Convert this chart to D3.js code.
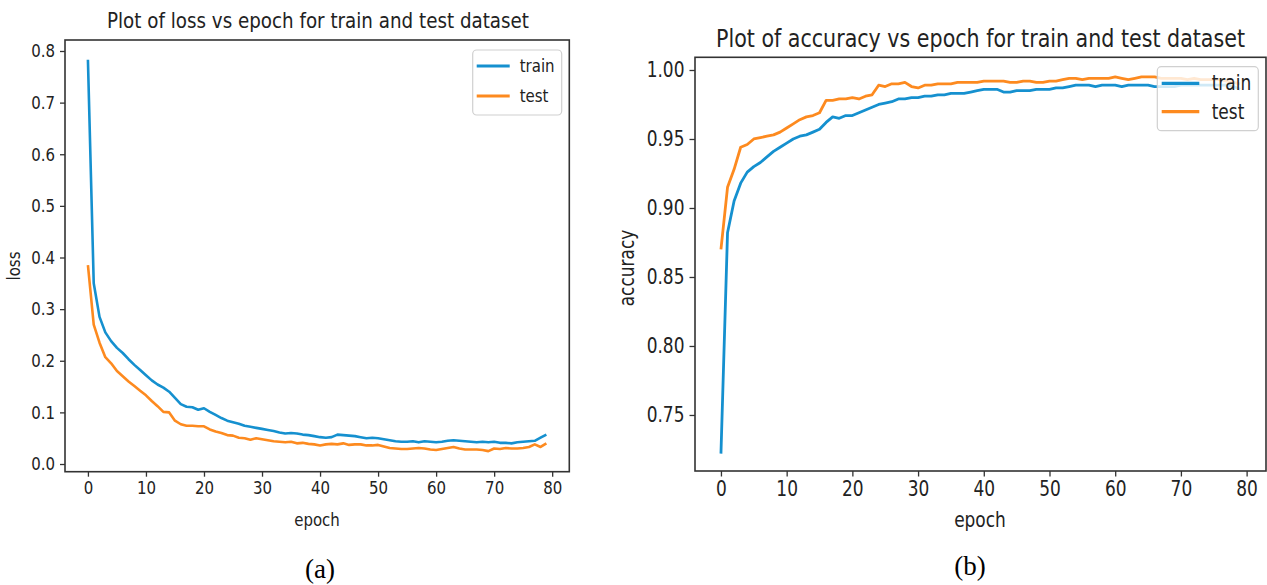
<!DOCTYPE html>
<html><head><meta charset="utf-8">
<script src="https://cdn.jsdelivr.net/npm/d3@7"></script>
<style>body{margin:0;background:#fff}svg{display:block}</style>
</head><body>
<svg id="c" width="1267" height="585"></svg>
<script>
const epochs = d3.range(0, 80);
const lossTrain = [0.783,0.350,0.285,0.255,0.238,0.225,0.215,0.203,0.192,0.182,0.172,0.162,0.154,0.148,0.140,0.128,0.116,0.111,0.110,0.105,0.108,0.101,0.095,0.089,0.084,0.081,0.078,0.074,0.072,0.070,0.068,0.066,0.064,0.061,0.059,0.060,0.059,0.057,0.056,0.054,0.052,0.051,0.052,0.057,0.056,0.055,0.054,0.052,0.050,0.051,0.050,0.048,0.046,0.044,0.043,0.043,0.044,0.042,0.044,0.043,0.042,0.043,0.045,0.046,0.045,0.044,0.043,0.042,0.043,0.042,0.043,0.041,0.041,0.040,0.042,0.043,0.044,0.045,0.051,0.057];
const lossTest = [0.385,0.270,0.235,0.207,0.195,0.180,0.170,0.160,0.151,0.142,0.133,0.122,0.112,0.101,0.100,0.084,0.077,0.074,0.074,0.073,0.073,0.067,0.063,0.060,0.056,0.055,0.051,0.050,0.047,0.050,0.048,0.046,0.044,0.043,0.042,0.043,0.040,0.041,0.039,0.038,0.036,0.038,0.039,0.038,0.040,0.037,0.038,0.038,0.036,0.036,0.037,0.034,0.031,0.030,0.029,0.029,0.030,0.031,0.030,0.028,0.027,0.029,0.031,0.033,0.030,0.028,0.028,0.028,0.027,0.025,0.030,0.029,0.031,0.030,0.030,0.031,0.033,0.038,0.033,0.040];
const accTrain = [0.722,0.882,0.905,0.918,0.926,0.930,0.933,0.937,0.941,0.944,0.947,0.950,0.952,0.953,0.955,0.957,0.962,0.966,0.965,0.967,0.967,0.969,0.971,0.973,0.975,0.976,0.977,0.979,0.979,0.980,0.980,0.981,0.981,0.982,0.982,0.983,0.983,0.983,0.984,0.985,0.986,0.986,0.986,0.984,0.984,0.985,0.985,0.985,0.986,0.986,0.986,0.987,0.987,0.988,0.989,0.989,0.989,0.988,0.989,0.989,0.989,0.988,0.989,0.989,0.989,0.989,0.988,0.988,0.988,0.988,0.989,0.989,0.989,0.989,0.989,0.989,0.989,0.989,0.988,0.986];
const accTest = [0.870,0.915,0.928,0.944,0.946,0.950,0.951,0.952,0.953,0.955,0.958,0.961,0.964,0.966,0.967,0.969,0.978,0.978,0.979,0.979,0.980,0.979,0.981,0.982,0.989,0.988,0.990,0.990,0.991,0.988,0.987,0.989,0.989,0.990,0.990,0.990,0.991,0.991,0.991,0.991,0.992,0.992,0.992,0.992,0.991,0.991,0.992,0.992,0.991,0.991,0.992,0.992,0.993,0.994,0.994,0.993,0.994,0.994,0.994,0.994,0.995,0.994,0.993,0.994,0.995,0.995,0.995,0.994,0.994,0.994,0.994,0.993,0.994,0.993,0.993,0.993,0.993,0.992,0.991,0.990];
const xTicks = [0,10,20,30,40,50,60,70,80];
const lossTicks = [0.0,0.1,0.2,0.3,0.4,0.5,0.6,0.7,0.8];
const accTicks = [0.75,0.80,0.85,0.90,0.95,1.00];
const seriesNames = ["train","test"];
const colors = ["#1590cf","#fd8a1f"];

const svg = d3.select("#c");
const FONT = "DejaVu Sans, sans-serif";
const SY = 1.2;

function stretch(sel, rot) {
  sel.each(function(){
    const t = d3.select(this);
    const x = +t.attr("x") || 0, y = +t.attr("y") || 0;
    t.attr("x",0).attr("y",0)
     .attr("transform",`translate(${x},${y})${rot?" rotate(-90)":""} scale(1,${SY})`);
  });
}

function panel(o) {
  const x = d3.scaleLinear().domain([-3.95, 82.95]).range([o.left, o.right]);
  const y = d3.scaleLinear().domain(o.yDomain).range([o.bottom, o.top]);
  const g = svg.append("g");
  const fs = o.fs;
  const line = d3.line().x((d,i)=>x(epochs[i])).y(d=>y(d));
  o.series.forEach((s,k)=>{
    g.append("path").datum(s).attr("d", line).attr("fill","none")
      .attr("stroke", colors[k]).attr("stroke-width", o.lw).attr("stroke-linejoin","round");
  });
  const xa = g.append("g").attr("transform",`translate(0,${o.bottom})`)
    .call(d3.axisBottom(x).tickValues(xTicks).tickSize(o.tick).tickPadding(o.pad).tickFormat(d3.format("d")));
  const ya = g.append("g").attr("transform",`translate(${o.left},0)`)
    .call(d3.axisLeft(y).tickValues(o.yTicks).tickSize(o.tick).tickPadding(o.pad).tickFormat(d3.format(o.yFmt)));
  [xa,ya].forEach(a=>{
    a.select(".domain").remove();
    a.selectAll("line").attr("stroke","#333").attr("stroke-width",1.3);
    a.selectAll("text").attr("font-family",FONT).attr("font-size",fs).attr("fill","#222");
    stretch(a.selectAll("text"));
  });
  g.append("rect").attr("x",o.left).attr("y",o.top).attr("width",o.right-o.left).attr("height",o.bottom-o.top)
    .attr("fill","none").attr("stroke","#333").attr("stroke-width",1.6);
  const tt = g.append("text").attr("x",(o.tx0+o.tx1)/2).attr("y",o.titleY).attr("text-anchor","middle")
    .attr("font-family",FONT).attr("font-size",o.tfs).attr("fill","#222")
    .attr("textLength",o.tx1-o.tx0).attr("lengthAdjust","spacingAndGlyphs").text(o.title);
  stretch(tt);
  const xl = g.append("text").attr("x",o.xlabX).attr("y",o.xlabY).attr("text-anchor","middle")
    .attr("font-family",FONT).attr("font-size",fs).attr("fill","#222").text("epoch");
  stretch(xl);
  g.append("text").attr("transform",`translate(${o.ylabX},${o.ylabY}) rotate(-90) scale(1,${SY})`).attr("text-anchor","middle")
    .attr("font-family",FONT).attr("font-size",fs).attr("fill","#222").text(o.ylab);
  const L = o.legend;
  g.append("rect").attr("x",L.x).attr("y",L.y).attr("width",L.w).attr("height",L.h).attr("rx",4)
    .attr("fill","white").attr("fill-opacity",0.8).attr("stroke","#d0d0d0").attr("stroke-width",1.2);
  seriesNames.forEach((n,k)=>{
    const yy = L.y + L.r0 + k*L.dy;
    g.append("line").attr("x1",L.x+L.l0).attr("x2",L.x+L.l1).attr("y1",yy).attr("y2",yy)
      .attr("stroke",colors[k]).attr("stroke-width",o.lw+0.5);
    const lt = g.append("text").attr("x",L.x+L.t0).attr("y",yy).attr("dy","0.35em")
      .attr("font-family",FONT).attr("font-size",fs).attr("fill","#222").text(n);
    stretch(lt);
  });
  g.append("text").attr("x",o.capX).attr("y",o.capY).attr("text-anchor","middle")
    .attr("font-family","Liberation Serif, Times New Roman, serif").attr("font-size",27).attr("fill","#000").text(o.cap);
}

panel({left:65,right:569.3,top:40,bottom:471.7,yDomain:[-0.0149,0.8213],
  series:[lossTrain,lossTest],yTicks:lossTicks,yFmt:".1f",fs:15,tfs:18.3,lw:2.6,tick:5,pad:5,
  title:"Plot of loss vs epoch for train and test dataset",tx0:107,tx1:529,titleY:28,
  xlabX:317,xlabY:526,ylab:"loss",ylabX:20,ylabY:266,
  legend:{x:472.7,y:50,w:89,h:65,r0:16,dy:30,l0:4,l1:37,t0:47},
  cap:"(a)",capX:320,capY:578});

panel({left:695,right:1266,top:57.3,bottom:471,yDomain:[0.7094,1.0092],
  series:[accTrain,accTest],yTicks:accTicks,yFmt:".2f",fs:17,tfs:20.6,lw:2.8,tick:5.5,pad:5,
  title:"Plot of accuracy vs epoch for train and test dataset",tx0:716,tx1:1245,titleY:47,
  xlabX:980,xlabY:527,ylab:"accuracy",ylabX:634,ylabY:268,
  legend:{x:1157.3,y:66.7,w:101,h:64,r0:16.6,dy:28.4,l0:4.4,l1:42,t0:54.4},
  cap:"(b)",capX:970,capY:575});
</script>
</body></html>
